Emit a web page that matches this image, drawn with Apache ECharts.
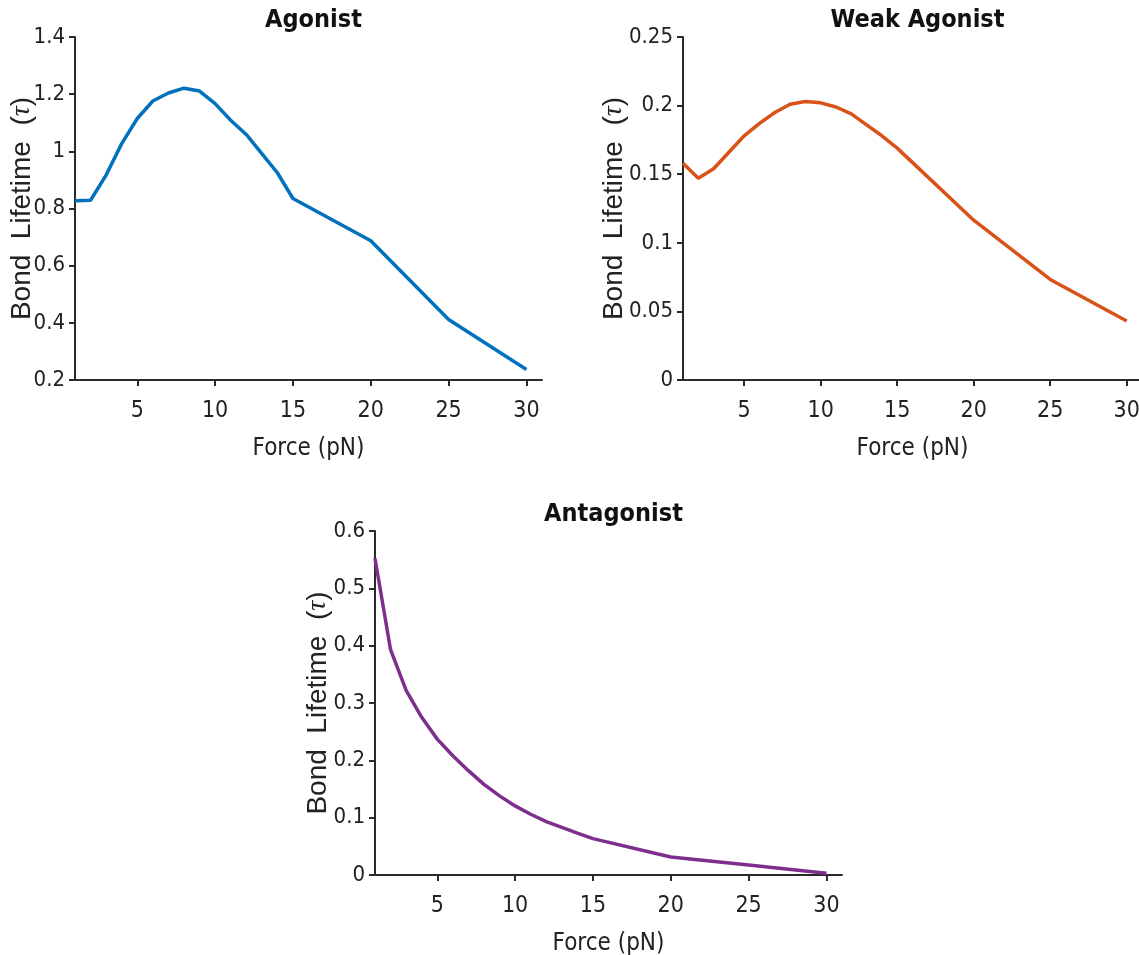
<!DOCTYPE html>
<html>
<head>
<meta charset="utf-8">
<script src="https://cdn.jsdelivr.net/npm/echarts@6/dist/echarts.min.js"></script>
<style>
  html, body { margin: 0; padding: 0; background: #fff; }
  #chart { width: 1139px; height: 955px; }
</style>
</head>
<body>
<div id="chart"></div>
<script>
// force values (pN)
const forces = [1, 2, 3, 4, 5, 6, 7, 8, 9, 10, 11, 12, 13, 14, 15, 20, 25, 30]
const xTicks = [5, 10, 15, 20, 25, 30]

// bond lifetime
const agonist = [0.827, 0.829, 0.917, 1.027, 1.115, 1.176, 1.204, 1.221, 1.211, 1.167,
  1.109, 1.059, 0.992, 0.925, 0.835, 0.687, 0.412, 0.237]
const weakAgonist = [0.158, 0.147, 0.154, 0.166, 0.178, 0.187, 0.195, 0.201, 0.203, 0.202,
  0.199, 0.194, 0.186, 0.178, 0.169, 0.1165, 0.0733, 0.043]
const antagonist = [0.552, 0.393, 0.322, 0.275, 0.237, 0.208, 0.182, 0.158, 0.138, 0.1205,
  0.106, 0.093, 0.083, 0.073, 0.0635, 0.0315, 0.0175, 0.003]

const titles = ['Agonist', 'Weak Agonist', 'Antagonist']
const colors = ['#0072BD', '#D95319', '#7E2F8E']

const narrow = '"DejaVu Sans Condensed", sans-serif'
const wide = '"Liberation Sans", Arial, sans-serif'
const axisColor = '#2a2a2a'

// panel layout
const panels = [
  { left: 75, top: 37, width: 467, height: 343, yMin: 0.2, yMax: 1.4, yStep: 0.2, nameGap: 39 },
  { left: 683, top: 37, width: 459, height: 343, yMin: 0, yMax: 0.25, yStep: 0.05, nameGap: 55 },
  { left: 375, top: 531, width: 467, height: 344, yMin: 0, yMax: 0.6, yStep: 0.1, nameGap: 43 }
]
const seriesData = [agonist, weakAgonist, antagonist]

const chart = echarts.init(document.getElementById('chart'))

const option = {
  backgroundColor: '#fff',
  animation: false,
  title: panels.map((p, i) => ({
    text: titles[i],
    left: p.left + p.width / 2,
    top: p.top - 34,
    textAlign: 'center',
    textStyle: { fontFamily: narrow, fontWeight: 'bold', fontSize: 25, color: '#111' }
  })),
  grid: panels.map(p => ({
    left: p.left, top: p.top, width: p.width, height: p.height,
    containLabel: false, outerBoundsMode: 'none'
  })),
  xAxis: panels.map((p, i) => ({
    type: 'value',
    gridIndex: i,
    min: 1,
    max: 31,
    name: 'Force (pN)',
    nameLocation: 'middle',
    nameGap: 57,
    nameMoveOverlap: false,
    nameTextStyle: { fontFamily: narrow, fontSize: 24, color: '#222' },
    splitLine: { show: false },
    axisLine: { show: true, lineStyle: { color: axisColor, width: 2 } },
    axisTick: { show: true, length: 6, customValues: xTicks, lineStyle: { color: axisColor, width: 2 } },
    axisLabel: { customValues: xTicks, margin: 20, fontFamily: narrow, fontSize: 23, color: '#222' }
  })),
  yAxis: panels.map((p, i) => ({
    type: 'value',
    gridIndex: i,
    min: p.yMin,
    max: p.yMax,
    interval: p.yStep,
    name: '{n|Bond  Lifetime  (}{t|τ}{n|)}',
    nameLocation: 'middle',
    nameGap: p.nameGap,
    nameRotate: 90,
    nameMoveOverlap: false,
    nameTextStyle: {
      fontFamily: wide,
      fontSize: 28,
      color: '#222',
      rich: {
        n: { fontFamily: wide, fontSize: 28, color: '#222' },
        t: { fontFamily: '"Liberation Serif", serif', fontStyle: 'italic', fontSize: 28, color: '#222' }
      }
    },
    splitLine: { show: false },
    axisLine: { show: true, onZero: false, lineStyle: { color: axisColor, width: 2 } },
    axisTick: { show: true, length: 6, lineStyle: { color: axisColor, width: 2 } },
    axisLabel: { margin: 10, fontFamily: narrow, fontSize: 22, color: '#222' }
  })),
  series: seriesData.map((vals, i) => ({
    type: 'line',
    xAxisIndex: i,
    yAxisIndex: i,
    data: forces.map((f, k) => [f, vals[k]]),
    showSymbol: false,
    symbol: 'none',
    lineStyle: { color: colors[i], width: 3.5 },
    clip: false
  }))
}

chart.setOption(option)
</script>
</body>
</html>
